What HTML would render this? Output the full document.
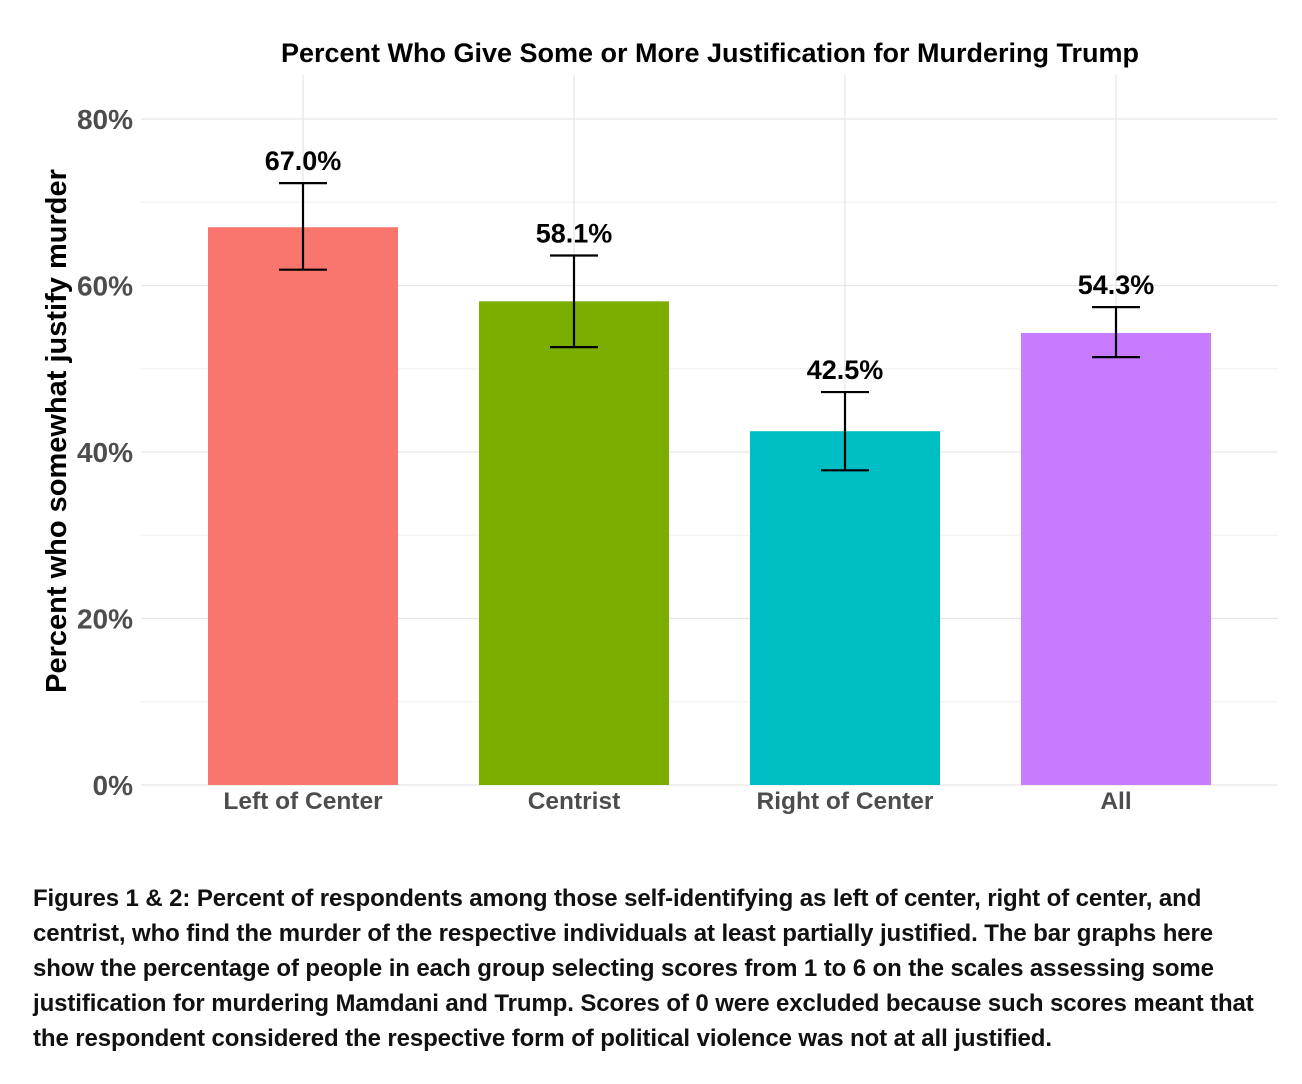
<!DOCTYPE html>
<html><head><meta charset="utf-8"><style>
body{margin:0;background:#fff;width:1302px;height:1084px;overflow:hidden;font-family:"Liberation Sans",Arial,sans-serif}
.cap{position:absolute;left:33px;top:881px;width:1269px;font-size:24px;font-weight:bold;line-height:35px;color:#111;white-space:nowrap;letter-spacing:-0.1px}
</style></head><body>
<svg id="chart" width="1302" height="870" style="position:absolute;left:0;top:0" font-family="Liberation Sans, Arial, sans-serif"></svg>
<div class="cap">Figures 1 &amp; 2: Percent of respondents among those self-identifying as left of center, right of center, and<br>centrist, who find the murder of the respective individuals at least partially justified. The bar graphs here<br>show the percentage of people in each group selecting scores from 1 to 6 on the scales assessing some<br>justification for murdering Mamdani and Trump. Scores of 0 were excluded because such scores meant that<br>the respondent considered the respective form of political violence was not at all justified.</div>
<script>
const categories=["Left of Center","Centrist","Right of Center","All"];
const values=[67.0,58.1,42.5,54.3];
const errLow=[61.9,52.6,37.8,51.4];
const errHigh=[72.3,63.6,47.2,57.4];
const colors=["#F8766D","#7CAE00","#00BFC4","#C77CFF"];
const yTicks=[0,20,40,60,80];
const yTickLabels=["0%","20%","40%","60%","80%"];
const NS="http://www.w3.org/2000/svg";
const svg=document.getElementById('chart');
const y=v=>785-v*8.325;
const x=i=>303+i*271;
function mk(t,a,txt){const e=document.createElementNS(NS,t);for(const k in a)e.setAttribute(k,a[k]);if(txt!==undefined)e.textContent=txt;svg.appendChild(e);return e;}
for(let v=10;v<=70;v+=20){const g=mk('line',{x1:141,x2:1278,y1:y(v),y2:y(v),stroke:'#f0f0f0','stroke-width':1});
}
yTicks.forEach((v,i)=>{const g=mk('line',{x1:141,x2:1278,y1:y(v),y2:y(v),stroke:'#e6e6e6','stroke-width':1.3});

const t=mk('text',{x:133,y:y(v)+10,'text-anchor':'end','font-size':28,'font-weight':'bold',fill:'#4d4d4d'},yTickLabels[i]);
});
categories.forEach((c,i)=>{const g=mk('line',{x1:x(i),x2:x(i),y1:75,y2:785,stroke:'#e6e6e6','stroke-width':1.3});
});
categories.forEach((c,i)=>{
const b=mk('rect',{x:x(i)-95,y:y(values[i]),width:190,height:y(0)-y(values[i]),fill:colors[i]});

const e=mk('path',{d:`M${x(i)} ${y(errHigh[i])}V${y(errLow[i])}M${x(i)-24} ${y(errHigh[i])}H${x(i)+24}M${x(i)-24} ${y(errLow[i])}H${x(i)+24}`,stroke:'#000','stroke-width':2.2,fill:'none'});

const l=mk('text',{x:x(i),y:y(errHigh[i])-13,'text-anchor':'middle','font-size':27,'font-weight':'bold',fill:'#000'},values[i].toFixed(1)+'%');

const xl=mk('text',{x:x(i),y:809,'text-anchor':'middle','font-size':24.5,'font-weight':'bold',fill:'#4d4d4d'},c);
});
const t=mk('text',{x:710,y:62,'text-anchor':'middle','font-size':27,'font-weight':'bold',fill:'#000'},'Percent Who Give Some or More Justification for Murdering Trump');

const yt=mk('text',{x:0,y:0,'text-anchor':'middle','font-size':29,'font-weight':'bold',fill:'#000',transform:'translate(66,431) rotate(-90)'},'Percent who somewhat justify murder');

</script>
</body></html>
